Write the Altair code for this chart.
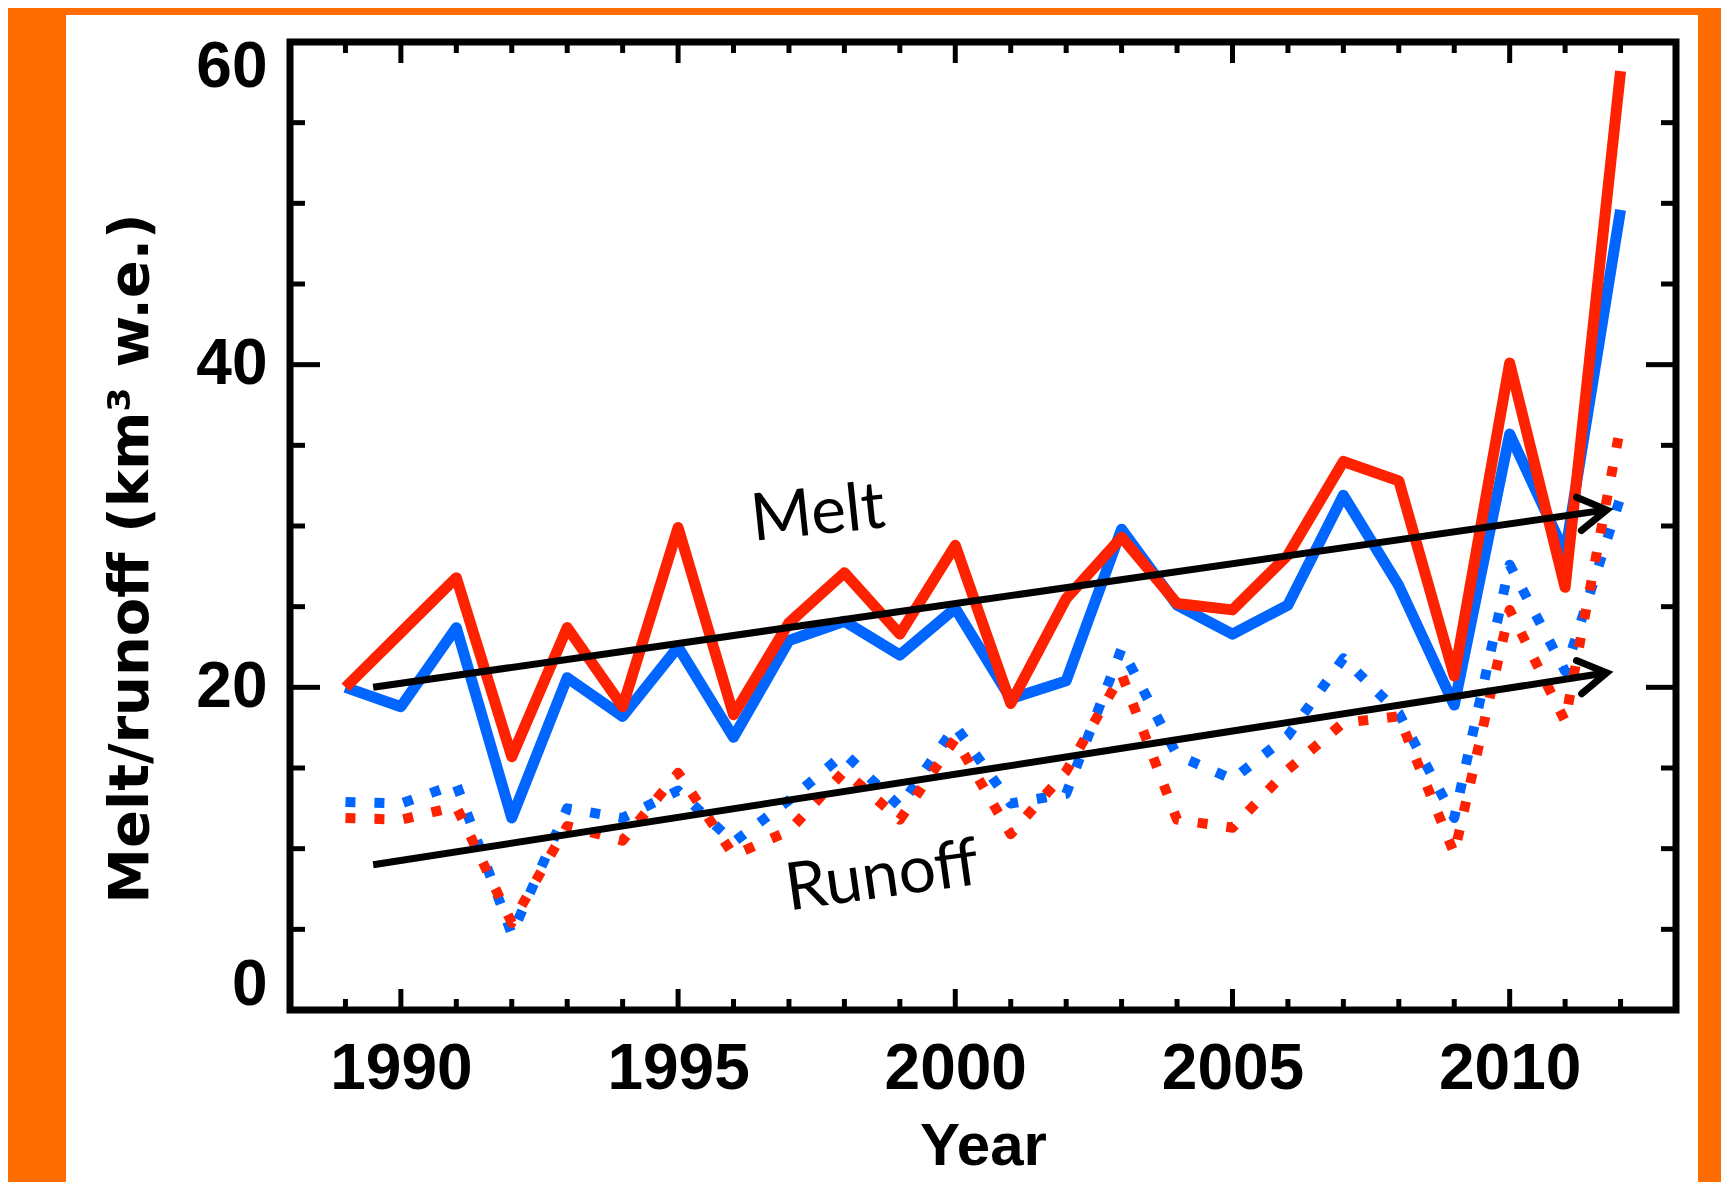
import math
import altair as alt
import pandas as pd

# ---------------- data ----------------
years = list(range(1989, 2013))

melt_red = [20.0, 23.4, 26.8, 15.7, 23.7, 18.8, 29.9, 18.3, 24.0, 27.1, 23.3, 28.8,
            19.0, 25.5, 29.3, 25.2, 24.8, 28.2, 34.0, 32.8, 20.7, 40.1, 26.2, 58.2]
melt_blue = [20.0, 18.8, 23.7, 11.9, 20.6, 18.2, 22.5, 16.9, 22.9, 24.1, 22.0, 24.9,
             19.3, 20.4, 29.8, 25.1, 23.3, 25.1, 31.9, 26.3, 18.9, 35.7, 28.3, 49.6]
runoff_red = [11.9, 11.8, 12.6, 5.4, 11.4, 10.5, 14.7, 9.6, 11.1, 14.8, 11.8, 16.8,
              10.9, 14.8, 20.8, 11.8, 11.3, 14.9, 17.8, 18.2, 9.7, 24.8, 17.9, 36.2]
runoff_blue = [12.9, 12.8, 14.0, 4.7, 12.5, 11.9, 13.6, 10.4, 13.0, 15.9, 12.6, 17.6,
               12.8, 13.4, 22.4, 15.8, 14.3, 17.0, 21.8, 18.4, 11.9, 27.6, 21.0, 31.8]

x_labels = [1990, 1995, 2000, 2005, 2010]
x_minor = [y for y in years if y not in x_labels]
y_labels = [0, 20, 40, 60]
y_major = [20, 40]
y_minor = [5, 10, 15, 25, 30, 35, 45, 50, 55]

arrow_x0 = [1989.5, 1989.5]
arrow_y0 = [20.0, 9.0]
arrow_x1 = [2011.75, 2011.75]
arrow_y1 = [31.0, 20.9]

note_text = ["Melt", "Runoff"]
note_x = [1997.56, 1998.73]
note_y = [29.5, 7.0]
note_angle = [354, 352]

# ---------------- layout / style ----------------
PW, PH = 1386, 968
X_DOMAIN = [1988, 2013]
Y_DOMAIN = [0, 60]
RED = "#FF2200"
BLUE = "#0066FF"
ORANGE = "#FF6C00"

xs = alt.Scale(domain=X_DOMAIN, nice=False, zero=False)
ys = alt.Scale(domain=Y_DOMAIN, nice=False, zero=False)

xaxis = alt.Axis(
    values=x_labels, format="d", title="Year",
    labelFont="Liberation Sans", labelFontSize=64, labelFontWeight="bold",
    labelColor="black", labelPadding=27, labelFlush=False, labelOverlap=False,
    ticks=False, tickSize=0, domain=False, grid=False,
    titleFont="Liberation Sans", titleFontSize=60, titleFontWeight="bold",
    titleColor="black", titleBaseline="alphabetic", titleY=154, zindex=1,
)
yaxis = alt.Axis(
    values=y_labels, format="d", title="Melt/runoff (km³ w.e.)",
    labelFont="Liberation Sans", labelFontSize=64, labelFontWeight="bold",
    labelColor="black", labelPadding=23, labelFlush=True, labelFlushOffset=7,
    labelOverlap=False, ticks=False, tickSize=0, domain=False, grid=False,
    titleFont="DejaVu Sans", titleFontSize=56, titleFontWeight="bold",
    titleColor="black", titleAngle=270, titleAlign="center",
    titleBaseline="middle", titleX=-160, titleY=516, zindex=1,
)


def X(field):
    return alt.X(field, type="quantitative", scale=xs, axis=xaxis)


def Y(field):
    return alt.Y(field, type="quantitative", scale=ys, axis=yaxis)


one = pd.DataFrame({"a": [0]})

# white panel
panel = alt.Chart(one).mark_rect(color="white").encode(
    x=alt.value(-224), x2=alt.value(PW + 22), y=alt.value(-27), y2=alt.value(PH + 300)
)

layers = [panel]


# inward ticks on all four sides
def xticks(vals, length):
    df = pd.DataFrame({"t": vals})
    base = alt.Chart(df).mark_rule(color="black", strokeWidth=5, strokeCap="butt")
    return [
        base.encode(x=X("t"), y=alt.value(PH), y2=alt.value(PH - length)),
        base.encode(x=X("t"), y=alt.value(0), y2=alt.value(length)),
    ]


def yticks(vals, length):
    df = pd.DataFrame({"t": vals})
    base = alt.Chart(df).mark_rule(color="black", strokeWidth=5, strokeCap="butt")
    return [
        base.encode(y=Y("t"), x=alt.value(0), x2=alt.value(length)),
        base.encode(y=Y("t"), x=alt.value(PW), x2=alt.value(PW - length)),
    ]


layers += xticks(x_minor, 11) + xticks(x_labels, 21)
layers += yticks(y_minor, 15) + yticks(y_major, 30)


def series(vals, color, dotted):
    df = pd.DataFrame({"year": years, "value": vals})
    if dotted:
        m = alt.Chart(df).mark_line(color=color, strokeWidth=10, strokeDash=[10, 19],
                                     strokeCap="butt", strokeJoin="round")
    else:
        m = alt.Chart(df).mark_line(color=color, strokeWidth=11, strokeCap="butt",
                                     strokeJoin="round")
    return m.encode(x=X("year"), y=Y("value"))


layers += [
    series(runoff_blue, BLUE, True),
    series(runoff_red, RED, True),
    series(melt_blue, BLUE, False),
    series(melt_red, RED, False),
]

# trend arrows
ppx = PW / (X_DOMAIN[1] - X_DOMAIN[0])
ppy = PH / (Y_DOMAIN[1] - Y_DOMAIN[0])
angles = [
    (360 - math.degrees(math.atan2((y1 - y0) * ppy, (x1 - x0) * ppx))) % 360
    for x0, y0, x1, y1 in zip(arrow_x0, arrow_y0, arrow_x1, arrow_y1)
]
arr = pd.DataFrame({"x0": arrow_x0, "y0": arrow_y0, "x1": arrow_x1, "y1": arrow_y1,
                    "ang": angles})
layers.append(
    alt.Chart(arr).mark_rule(color="black", strokeWidth=7, strokeCap="butt").encode(
        x=X("x0"), y=Y("y0"), x2="x1", y2="y1")
)
layers.append(
    alt.Chart(arr).mark_point(shape="M -1 -0.6 L 0 0 L -1 0.6", filled=False,
                              color="black", strokeWidth=7, opacity=1, size=3136,
                              strokeJoin="miter", strokeCap="round").encode(
        x=X("x1"), y=Y("y1"), angle=alt.Angle("ang:Q", scale=None))
)

notes = pd.DataFrame({"label": note_text, "x": note_x, "y": note_y, "ang": note_angle})
layers.append(
    alt.Chart(notes).mark_text(font="Lato", fontSize=66, align="center",
                               baseline="alphabetic", color="black").encode(
        x=X("x"), y=Y("y"), text="label:N", angle=alt.Angle("ang:Q", scale=None))
)

# frame
layers.append(
    alt.Chart(one).mark_rect(fillOpacity=0, stroke="black", strokeWidth=7).encode(
        x=alt.value(0), x2=alt.value(PW), y=alt.value(0), y2=alt.value(PH))
)

chart = alt.layer(*layers).properties(
    width=PW, height=PH,
    padding={"left": 282, "top": 34, "right": 45, "bottom": 172},
    autosize=alt.AutoSizeParams(type="none"),
    background=ORANGE,
).configure_view(stroke="transparent")

chart.save("out.html", embed_options={"renderer": "svg", "actions": False})
